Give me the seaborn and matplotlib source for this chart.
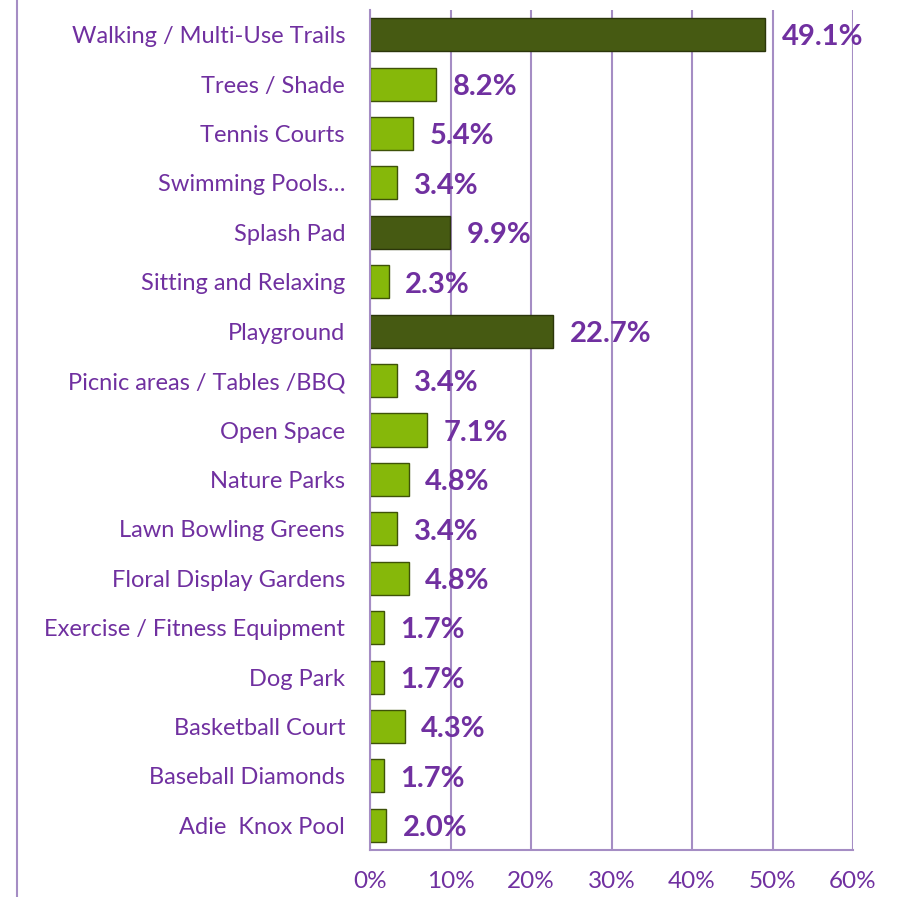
import matplotlib
matplotlib.use("Agg")
import matplotlib.pyplot as plt
import seaborn as sns
import pandas as pd
from matplotlib.lines import Line2D
from matplotlib.ticker import FuncFormatter

# amenities, top to bottom as shown
amenities = ['Walking / Multi-Use Trails', 'Trees / Shade', 'Tennis Courts',
             'Swimming Pools…', 'Splash Pad', 'Sitting and Relaxing', 'Playground',
             'Picnic areas / Tables /BBQ', 'Open Space', 'Nature Parks',
             'Lawn Bowling Greens', 'Floral Display Gardens',
             'Exercise / Fitness Equipment', 'Dog Park', 'Basketball Court',
             'Baseball Diamonds', 'Adie  Knox Pool']
percent = [49.1, 8.2, 5.4, 3.4, 9.9, 2.3, 22.7, 3.4, 7.1, 4.8, 3.4, 4.8,
           1.7, 1.7, 4.3, 1.7, 2.0]
highlighted = ['Walking / Multi-Use Trails', 'Splash Pad', 'Playground']

purple = '#7030A0'
grid_col = '#A58DC4'
light_green = '#86B80A'
dark_green = '#465A12'

df = pd.DataFrame({'amenity': amenities, 'percent': percent})
palette = {a: (dark_green if a in highlighted else light_green) for a in amenities}

sns.set_style('white')
plt.rcParams['font.family'] = ['Lato', 'DejaVu Sans']

fig = plt.figure(figsize=(8.99, 8.97), dpi=100)
ax = fig.add_axes([370 / 899, 1 - 850 / 897, (853 - 370) / 899, 840 / 897])

sns.barplot(data=df, y='amenity', x='percent', hue='amenity', palette=palette,
            order=amenities, legend=False, width=0.67, ax=ax,
            edgecolor='#3E5208', linewidth=1.0, saturation=1)

# darker edges for the dark bars
for patch, a in zip(ax.patches, amenities):
    if a in highlighted:
        patch.set_edgecolor('#2B360A')

ax.set_xlim(0, 60)
ax.set_ylim(len(amenities) - 0.5, -0.5)
ax.set_xticks(range(0, 61, 10))
ax.xaxis.set_major_formatter(FuncFormatter(lambda v, p: f'{v:.0f}%'))
ax.grid(axis='x', color=grid_col, linewidth=1.5)
ax.grid(axis='y', visible=False)
ax.set_axisbelow(True)
ax.set_xlabel('')
ax.set_ylabel('')

for side in ['top', 'right']:
    ax.spines[side].set_visible(False)
for side in ['left', 'bottom']:
    ax.spines[side].set_color(grid_col)
    ax.spines[side].set_linewidth(1.5)

ax.tick_params(axis='y', length=0, pad=18, labelsize=17, labelcolor=purple)
ax.tick_params(axis='x', length=0, pad=15, labelsize=17.5, labelcolor=purple)

for i, v in enumerate(percent):
    ax.annotate(f'{v:.1f}%', xy=(v, i), xytext=(12, -2), textcoords='offset points',
                ha='left', va='center', fontsize=21, fontweight='bold', color=purple)

# frame line on the left edge of the chart area
fig.add_artist(Line2D([17 / 899, 17 / 899], [0, 1], color=grid_col, linewidth=1.5))

fig.savefig('out.png', dpi=100)
